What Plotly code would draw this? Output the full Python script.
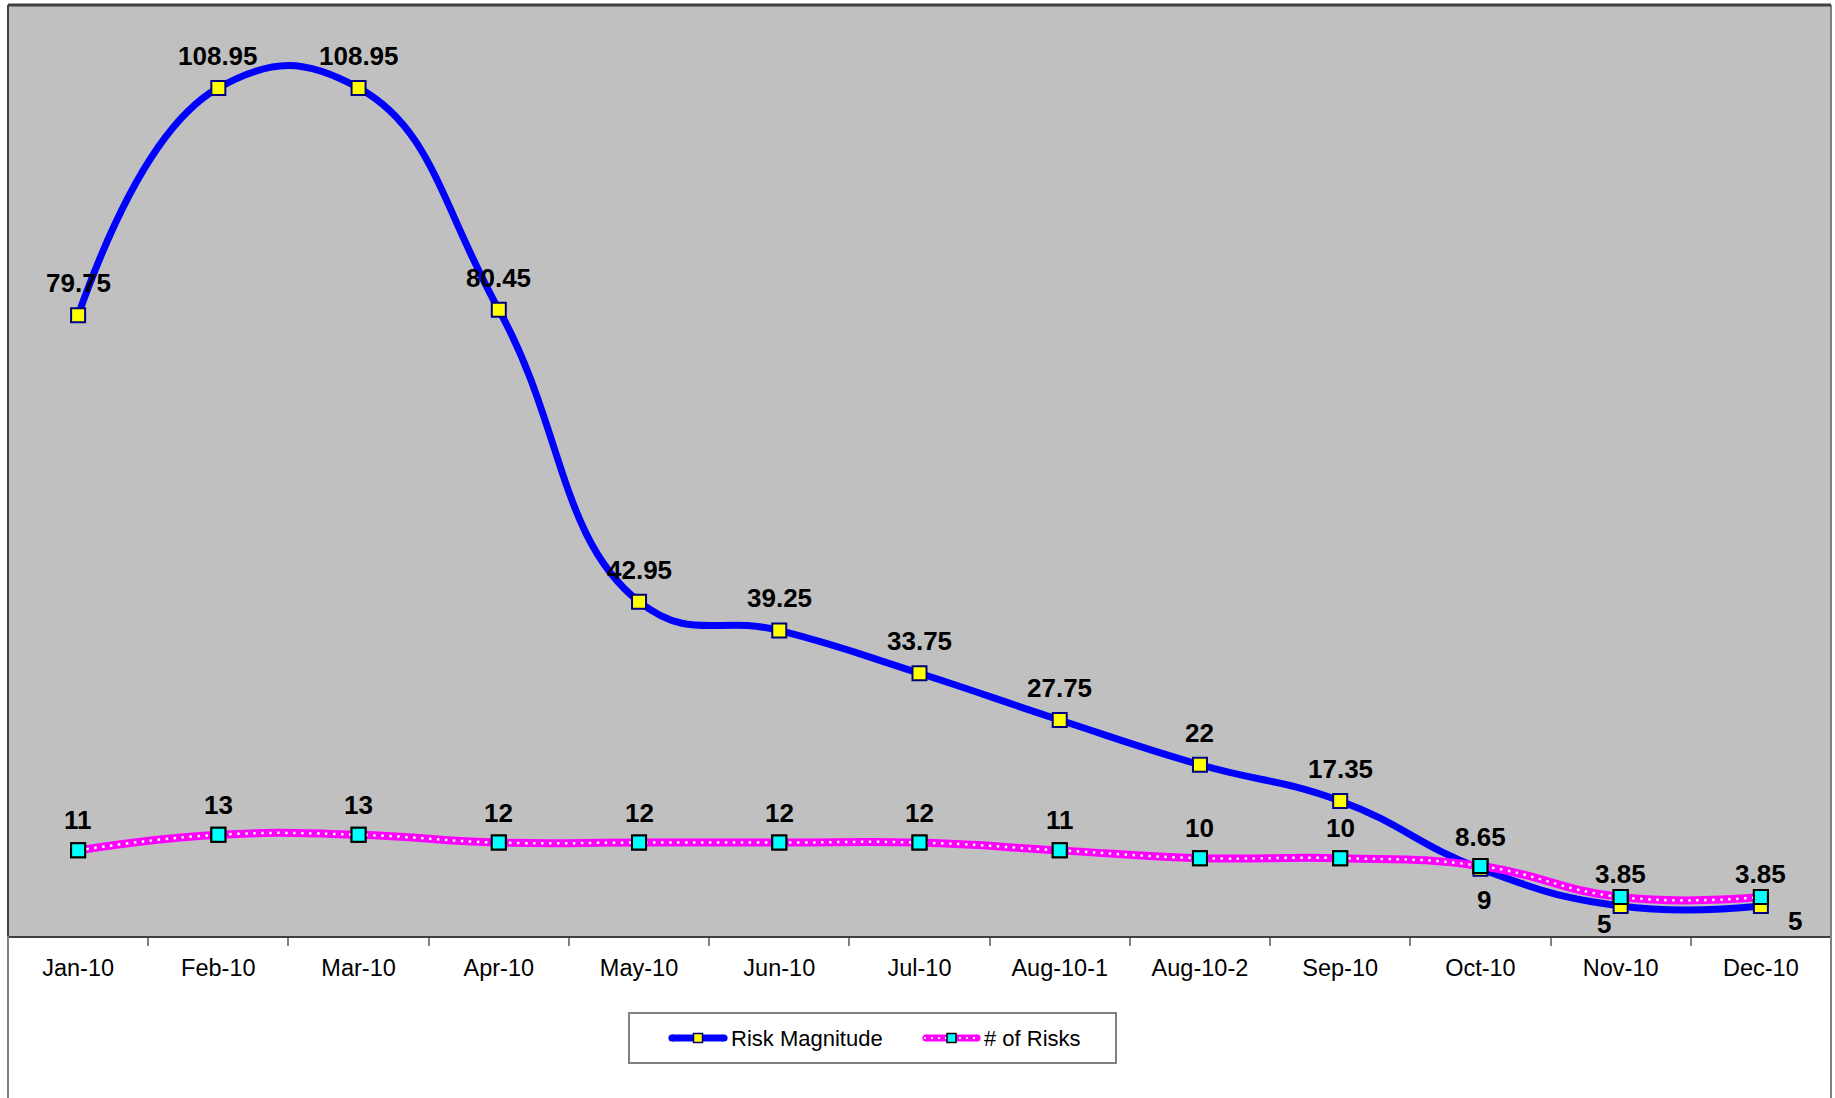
import plotly.graph_objects as go

# Reporting periods
months = ["Jan-10", "Feb-10", "Mar-10", "Apr-10", "May-10", "Jun-10", "Jul-10",
          "Aug-10-1", "Aug-10-2", "Sep-10", "Oct-10", "Nov-10", "Dec-10"]

# Series values
risk_magnitude = [79.75, 108.95, 108.95, 80.45, 42.95, 39.25, 33.75,
                  27.75, 22, 17.35, 8.65, 3.85, 3.85]
num_risks = [11, 13, 13, 12, 12, 12, 12, 11, 10, 10, 9, 5, 5]

series_names = ["Risk Magnitude", "# of Risks"]

# Data-label placement (pixel offsets from each point)
mag_label_dy = [32] * 13
risk_label_dy = [30] * 10 + [-34, -27, -24]
risk_label_dx = [0] * 10 + [4, -17, 34]

FONT = "Arial, 'Liberation Sans', sans-serif"
W, H = 1835, 1098
L, R, T, B = 8, 4, 5, 162
PW, PH = W - L - R, H - T - B

BLUE, MAGENTA = "#0000FF", "#FF00FF"
YELLOW, CYAN = "#FFFF00", "#00FFFF"
SMOOTH = 1.3


def px_x(px):
    return (px - L) / PW


def px_y(py):
    return (H - B - py) / PH


fig = go.Figure()

fig.add_trace(go.Scatter(
    x=months, y=risk_magnitude, name=series_names[0],
    mode="lines+markers",
    line=dict(color=BLUE, width=7, shape="spline", smoothing=SMOOTH),
    marker=dict(symbol="square", size=14, color=YELLOW,
                line=dict(color="#000080", width=2)),
))

fig.add_trace(go.Scatter(
    x=months, y=num_risks, name=series_names[1],
    mode="lines+markers",
    line=dict(color=MAGENTA, width=8, shape="spline", smoothing=SMOOTH),
    marker=dict(symbol="square", size=14, color=CYAN,
                line=dict(color="#000000", width=2)),
))

# white dotted overlay on the magenta line
fig.add_trace(go.Scatter(
    x=months, y=num_risks, mode="lines", showlegend=False, hoverinfo="skip",
    line=dict(color="#FFFFFF", width=2.5, dash="2.5px,5.5px",
              shape="spline", smoothing=SMOOTH),
))

# cyan markers kept above the dotted overlay
fig.add_trace(go.Scatter(
    x=months, y=num_risks, mode="markers", showlegend=False, hoverinfo="skip",
    marker=dict(symbol="square", size=14, color=CYAN,
                line=dict(color="#000000", width=2)),
))

label_font = dict(family=FONT, size=26, color="#000000")
annotations = []
for m, v, dy in zip(months, risk_magnitude, mag_label_dy):
    annotations.append(dict(x=m, y=v, text=f"<b>{v:g}</b>", showarrow=False,
                            yshift=dy, font=label_font,
                            xanchor="center", yanchor="middle"))
for m, v, dy, dx in zip(months, num_risks, risk_label_dy, risk_label_dx):
    annotations.append(dict(x=m, y=v, text=f"<b>{v:g}</b>", showarrow=False,
                            yshift=dy, xshift=dx, font=label_font,
                            xanchor="center", yanchor="middle"))

shapes = [
    # outer chart frame sides
    dict(type="line", xref="paper", yref="paper", x0=0, x1=0, y0=px_y(H + 5), y1=1,
         line=dict(color="#808080", width=2)),
    dict(type="line", xref="paper", yref="paper", x0=1, x1=1, y0=px_y(H + 5), y1=1,
         line=dict(color="#808080", width=2)),
    # plot area top and left edges
    dict(type="line", xref="paper", yref="paper", x0=0, x1=1, y0=1, y1=1,
         line=dict(color="#404040", width=3)),
    dict(type="line", xref="paper", yref="paper", x0=0, x1=0, y0=0, y1=1,
         line=dict(color="#404040", width=2)),
]

# legend box below the plot
leg_x0, leg_x1, leg_y0, leg_y1 = 629, 1116, 1013, 1063
leg_cy = 1038
shapes.append(dict(type="rect", xref="paper", yref="paper",
                   x0=px_x(leg_x0), x1=px_x(leg_x1), y0=px_y(leg_y1), y1=px_y(leg_y0),
                   line=dict(color="#808080", width=2), fillcolor="#FFFFFF", layer="below"))

legend_items = [
    # (line start, line end, text start, line colour, marker fill, marker edge, dotted)
    (672, 724, 730, BLUE, YELLOW, "#000080", False),
    (926, 977, 983, MAGENTA, CYAN, "#000000", True),
]
CAP = 3.6
for name, (lx0, lx1, tx, lc, mf, me, dotted) in zip(series_names, legend_items):
    shapes.append(dict(type="line", xref="paper", yref="paper",
                       x0=px_x(lx0), x1=px_x(lx1), y0=px_y(leg_cy), y1=px_y(leg_cy),
                       line=dict(color=lc, width=7)))
    # rounded line ends
    for ex in (lx0, lx1):
        shapes.append(dict(type="circle", xref="paper", yref="paper",
                           x0=px_x(ex - CAP), x1=px_x(ex + CAP),
                           y0=px_y(leg_cy + CAP), y1=px_y(leg_cy - CAP),
                           line=dict(width=0), fillcolor=lc))
    if dotted:
        shapes.append(dict(type="line", xref="paper", yref="paper",
                           x0=px_x(lx0 - 2), x1=px_x(lx1 + 2), y0=px_y(leg_cy), y1=px_y(leg_cy),
                           line=dict(color="#FFFFFF", width=2, dash="2px,5px")))
    mx = (lx0 + lx1) / 2
    shapes.append(dict(type="rect", xref="paper", yref="paper",
                       x0=px_x(mx - 4.5), x1=px_x(mx + 4.5),
                       y0=px_y(leg_cy + 4.5), y1=px_y(leg_cy - 4.5),
                       line=dict(color=me, width=1.5), fillcolor=mf))
    annotations.append(dict(xref="paper", yref="paper", x=px_x(tx), y=px_y(leg_cy),
                            text=name, showarrow=False, xanchor="left", yanchor="middle",
                            xshift=-1, font=dict(family=FONT, size=22, color="#000000")))

fig.update_layout(
    width=W, height=H,
    margin=dict(l=L, r=R, t=T, b=B),
    paper_bgcolor="#FFFFFF",
    plot_bgcolor="#C0C0C0",
    font=dict(family=FONT, color="#000000"),
    showlegend=False,
    annotations=annotations,
    shapes=shapes,
    xaxis=dict(
        type="category", range=[-0.5, 12.5], showgrid=False, zeroline=False,
        showline=True, linecolor="#404040", linewidth=2,
        ticks="outside", tickson="boundaries", ticklen=8, tickcolor="#808080", tickwidth=2,
        ticklabelstandoff=10,
        tickfont=dict(family=FONT, size=23.5, color="#000000"),
        fixedrange=True,
    ),
    yaxis=dict(range=[0, 119.6], visible=False, showgrid=False, zeroline=False,
               fixedrange=True),
)

fig.write_html("out.html")
